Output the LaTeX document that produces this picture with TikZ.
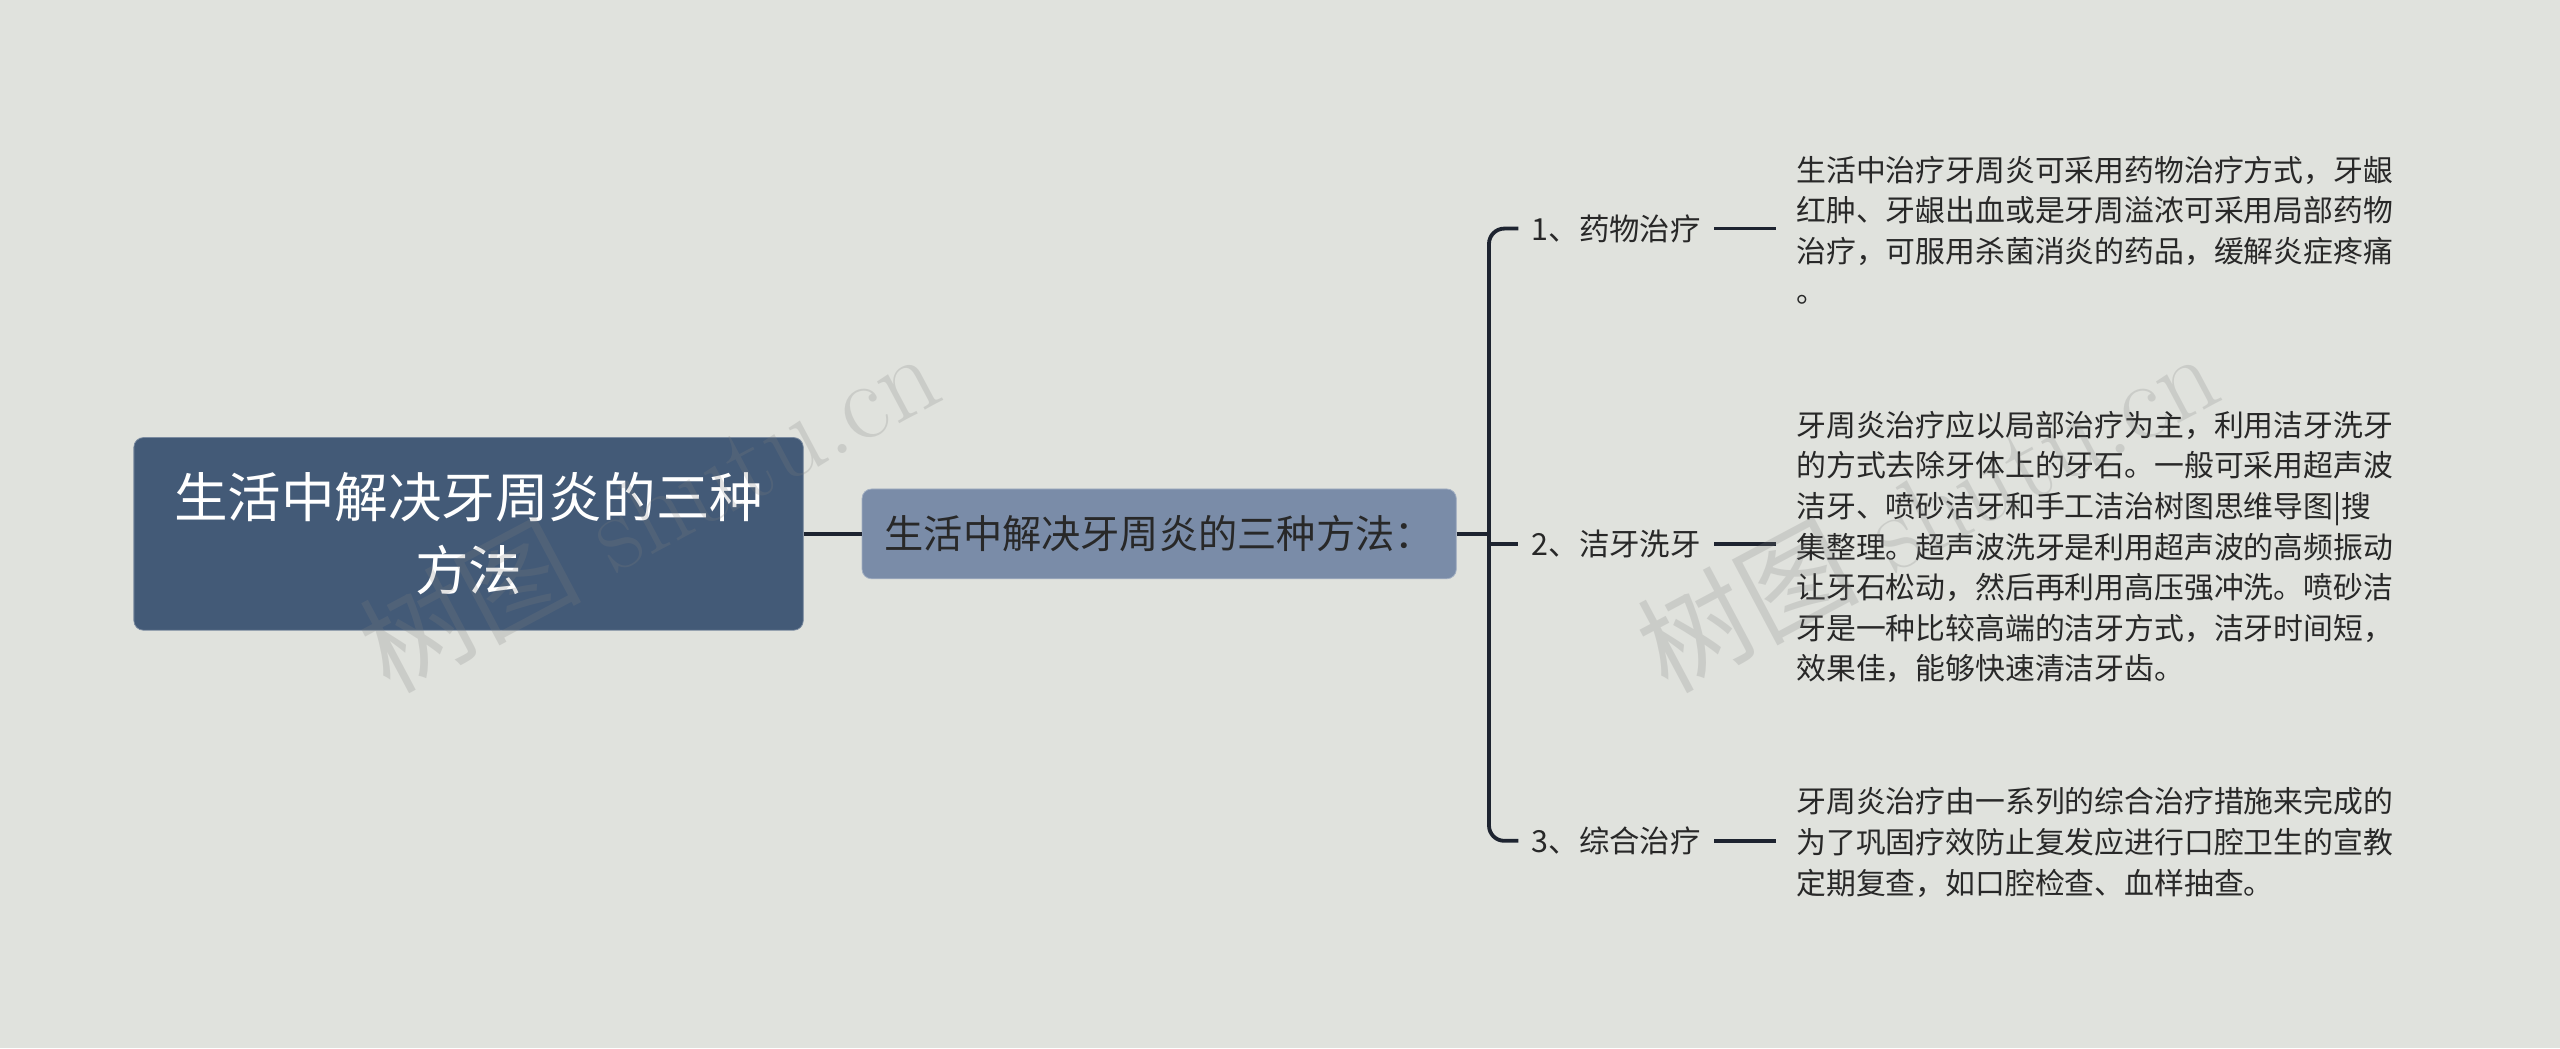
\documentclass[tikz,border=0pt]{standalone}
\usepackage{fontspec}
\newfontfamily\cjk{Noto Sans CJK SC}
\definecolor{bg}{RGB}{224,226,221}
\definecolor{rootc}{RGB}{67,90,119}
\definecolor{subc}{RGB}{122,140,168}
\definecolor{linec}{RGB}{30,36,48}
\definecolor{txt}{RGB}{40,40,40}
\begin{document}
\begin{tikzpicture}[x=0.03cm,y=-0.03cm,
  conn/.style={draw=linec,line width=2pt},
  leaf/.style={font=\cjk\fontsize{15.9pt}{18pt}\selectfont,text=txt,anchor=west,inner sep=0pt},
  desc/.style={font=\cjk\fontsize{15.6pt}{21.2pt}\selectfont,text=txt,anchor=west,align=left,inner sep=0pt},
  wm/.style={font=\fontsize{58pt}{58pt}\selectfont,text=gray,opacity=0.22,rotate=28}]
\fill[bg] (0,0) rectangle (1568,642);
\useasboundingbox (0,0) rectangle (1568,642);
\node[fill=rootc,draw=rootc!70!white,rounded corners=5pt,minimum width=410*0.03cm,minimum height=118*0.03cm,
  text=white,align=center,font=\cjk\fontsize{28pt}{38pt}\selectfont] (root) at (287,327) {生活中解决牙周炎的三种\\方法};
\node[fill=subc,draw=subc!70!white,rounded corners=5pt,minimum width=364*0.03cm,minimum height=55*0.03cm,
  text=txt,font=\cjk\fontsize{20.5pt}{22pt}\selectfont] (sub) at (710,327) {生活中解决牙周炎的三种方法：};
\draw[conn] (root.east) -- (sub.west);
\node[leaf] (l1) at (938,140) {1、药物治疗};
\node[leaf] (l2) at (938,333) {2、洁牙洗牙};
\node[leaf] (l3) at (938,515) {3、综合治疗};
\coordinate (j) at (912,327);
\draw[conn] (sub.east) -- (j);
\draw[conn,rounded corners=8pt] (j) |- ([xshift=-8*0.03cm]l1.west);
\draw[conn,rounded corners=8pt] (j) |- ([xshift=-8*0.03cm]l3.west);
\draw[conn] (j) |- ([xshift=-8*0.03cm]l2.west);
\node[desc] (d1) at (1100,141) {生活中治疗牙周炎可采用药物治疗方式，牙龈\\红肿、牙龈出血或是牙周溢浓可采用局部药物\\治疗，可服用杀菌消炎的药品，缓解炎症疼痛\\。};
\node[desc] (d2) at (1100,335) {牙周炎治疗应以局部治疗为主，利用洁牙洗牙\\的方式去除牙体上的牙石。一般可采用超声波\\洁牙、喷砂洁牙和手工洁治树图思维导图|搜\\集整理。超声波洗牙是利用超声波的高频振动\\让牙石松动，然后再利用高压强冲洗。喷砂洁\\牙是一种比较高端的洁牙方式，洁牙时间短，\\效果佳，能够快速清洁牙齿。};
\node[desc] (d3) at (1100,516) {牙周炎治疗由一系列的综合治疗措施来完成的\\为了巩固疗效防止复发应进行口腔卫生的宣教\\定期复查，如口腔检查、血样抽查。};
\draw[conn] ([xshift=8*0.03cm]l1.east) -- ([xshift=-12*0.03cm]d1.west|-l1);
\draw[conn] ([xshift=8*0.03cm]l2.east) -- ([xshift=-12*0.03cm]d2.west|-l2);
\draw[conn] ([xshift=8*0.03cm]l3.east) -- ([xshift=-12*0.03cm]d3.west|-l3);
\node[wm] (w1) at (397,312) {{\cjk 树图} shutu.cn};
\node[wm] (w2) at (1180,312) {{\cjk 树图} shutu.cn};
\end{tikzpicture}
\end{document}
